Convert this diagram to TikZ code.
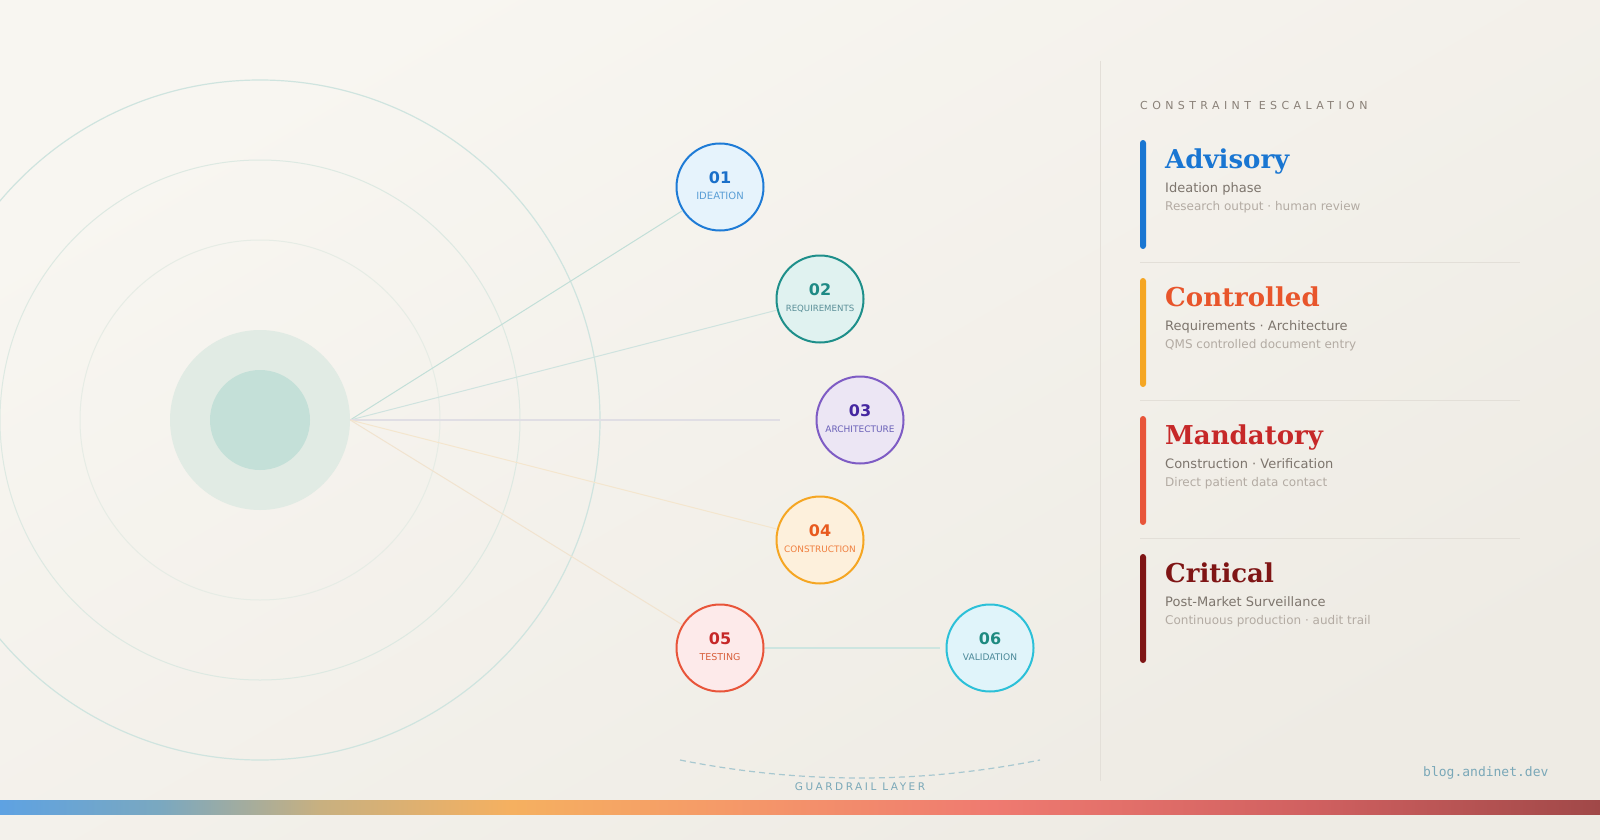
\documentclass[tikz,border=0pt]{standalone}
\usepackage{fontspec}
\setmainfont{DejaVu Sans}
\setmonofont{DejaVu Sans Mono}
\newfontfamily\titlefont{DejaVu Serif}
\newfontfamily\spacedfont[LetterSpace=40]{DejaVu Sans}
\newfontfamily\guardfont[LetterSpace=24]{DejaVu Sans}

% Farben
\definecolor{bgA}{HTML}{F8F6F1}
\definecolor{bgB}{HTML}{EEEBE4}
\definecolor{ringA}{HTML}{CFE4DF}
\definecolor{ringB}{HTML}{DDE9E2}
\definecolor{ringC}{HTML}{E6ECE5}
\definecolor{hubout}{HTML}{E1EBE4}
\definecolor{hubin}{HTML}{C4E0D8}
\definecolor{s1}{HTML}{1E7BD6}\definecolor{f1}{HTML}{E6F3FC}\definecolor{t1}{HTML}{1A6FC9}\definecolor{l1}{HTML}{5A9ED6}
\definecolor{s2}{HTML}{1E8F8A}\definecolor{f2}{HTML}{E0F2F0}\definecolor{t2}{HTML}{1E8A85}\definecolor{l2}{HTML}{5A8F98}
\definecolor{s3}{HTML}{7E5CC4}\definecolor{f3}{HTML}{ECE6F4}\definecolor{t3}{HTML}{4527A0}\definecolor{l3}{HTML}{6A60B8}
\definecolor{s4}{HTML}{F5A623}\definecolor{f4}{HTML}{FDF0DC}\definecolor{t4}{HTML}{E85A1E}\definecolor{l4}{HTML}{F08040}
\definecolor{s5}{HTML}{E8553A}\definecolor{f5}{HTML}{FDEAEA}\definecolor{t5}{HTML}{C62828}\definecolor{l5}{HTML}{D8603C}
\definecolor{s6}{HTML}{2CC0D8}\definecolor{f6}{HTML}{E0F4FA}\definecolor{t6}{HTML}{1E8A80}\definecolor{l6}{HTML}{4A8898}
\definecolor{sp1}{HTML}{C2DFD8}
\definecolor{sp2}{HTML}{CFE3DF}
\definecolor{sp3}{HTML}{E0DEE4}
\definecolor{sp4}{HTML}{F4E6CE}
\definecolor{sp5}{HTML}{F1E3CF}
\definecolor{sp6}{HTML}{CDE5E0}
\definecolor{ttl1}{HTML}{1976D2}\definecolor{bar1}{HTML}{1976D2}
\definecolor{ttl2}{HTML}{E8552B}\definecolor{bar2}{HTML}{F5A623}
\definecolor{ttl3}{HTML}{C62828}\definecolor{bar3}{HTML}{E8553A}
\definecolor{ttl4}{HTML}{7F1515}\definecolor{bar4}{HTML}{7F1515}
\definecolor{subtxt}{HTML}{7D756D}
\definecolor{dettxt}{HTML}{B3ABA3}
\definecolor{headtxt}{HTML}{8A8178}
\definecolor{rule}{HTML}{E3DFD8}
\definecolor{guard}{HTML}{7AA8B8}
\definecolor{guardarc}{HTML}{A8C8D0}
\definecolor{gA}{HTML}{5EA2E2}
\definecolor{gB}{HTML}{7AA8C0}
\definecolor{gC}{HTML}{C8B080}
\definecolor{gD}{HTML}{F5B060}
\definecolor{gE}{HTML}{F59A68}
\definecolor{gF}{HTML}{EF7A70}
\definecolor{gG}{HTML}{D06060}
\definecolor{gH}{HTML}{A04848}

% Verlauf unten
\pgfdeclarehorizontalshading{barshade}{100bp}{color(0bp)=(gA); color(25bp)=(gA);
    color(30bp)=(gB); color(35bp)=(gC); color(41bp)=(gD); color(47.5bp)=(gE);
    color(56bp)=(gF); color(66bp)=(gG); color(75bp)=(gH); color(100bp)=(gH)}

\begin{document}
\begin{tikzpicture}[x=1pt,y=-1pt,
    phase/.style={circle, line width=2pt, minimum size=87, inner sep=0},
    numtxt/.style={anchor=base, inner sep=0, font=\fontsize{16}{16}\selectfont\bfseries},
    lbltxt/.style={anchor=base, inner sep=0},
    spoke/.style={line width=1pt},
    lvltitle/.style={anchor=base west, inner sep=0, font=\fontsize{26}{26}\selectfont\titlefont\bfseries},
    lvlsub/.style={anchor=base west, inner sep=0, text=subtxt, font=\fontsize{13}{13}\selectfont},
    lvldet/.style={anchor=base west, inner sep=0, text=dettxt, font=\fontsize{12}{12}\selectfont}]
    \useasboundingbox (0,0) rectangle (1600,840);
    \clip (0,0) rectangle (1600,840);

    % Hintergrund
    \shade[top color=bgA, bottom color=bgB, shading angle=30] (0,0) rectangle (1600,840);

    % Ringe um die Mitte
    \draw[ringA, line width=1.2pt] (260,420) circle[radius=340];
    \draw[ringB, line width=1pt] (260,420) circle[radius=260];
    \draw[ringC, line width=1pt] (260,420) circle[radius=180];
    \node[circle, fill=hubout, minimum size=180, inner sep=0] (hub) at (260,420) {};
    \node[circle, fill=hubin, minimum size=100, inner sep=0] (core) at (hub) {};

    % Phasen
    \foreach \i/\x/\y/\num/\txt/\fs in {1/720/187/01/IDEATION/10, 2/820/299/02/REQUIREMENTS/8.6,
        3/860/420/03/ARCHITECTURE/9, 4/820/540/04/CONSTRUCTION/8.9,
        5/720/648/05/TESTING/9.5, 6/990/648/06/VALIDATION/9.1} {
        \node[phase, draw=s\i, fill=f\i] (c\i) at (\x,\y) {};
        \node[numtxt, text=t\i] (n\i) at ([yshift=4pt]c\i.center) {\num};
        \node[lbltxt, text=l\i, font=\fontsize{\fs}{\fs}\selectfont] (l\i) at ([yshift=-12pt]c\i.center) {\txt};
    }

    % Speichen
    \coordinate (s3end) at (780,420);
    \draw[spoke, sp1] (hub.east) -- (c1);
    \draw[spoke, sp2] (hub.east) -- (c2);
    \draw[spoke, sp3, line width=1.5pt] (hub.east) -- (s3end);
    \draw[spoke, sp4] (hub.east) -- (c4);
    \draw[spoke, sp5] (hub.east) -- (c5);
    \draw[spoke, sp6, line width=1.5pt, shorten >=6pt] (c5) -- (c6);

    % Guardrail
    \draw[guardarc, line width=1.2pt, dash pattern=on 6pt off 4pt] (680,760) .. controls (800,784) and (920,784) .. (1040,760);
    \node[anchor=base, inner sep=0, text=guard, font=\fontsize{10.5}{10.5}\selectfont\guardfont] (guard) at (860,790) {GUARDRAIL LAYER};

    % Trennlinie
    \draw[rule, line width=1pt] (1100,61) -- (1100,781);

    % Stufen rechts
    \node[anchor=base west, inner sep=0, text=headtxt, font=\fontsize{11}{11}\selectfont\spacedfont] (head) at (1140,110) {CONSTRAINT ESCALATION};
    \foreach \k/\title/\sub/\det [count=\j from 0] in {1/Advisory/Ideation phase/Research output · human review,
        2/Controlled/Requirements · Architecture/QMS controlled document entry,
        3/Mandatory/Construction · Verification/Direct patient data contact,
        4/Critical/Post-Market Surveillance/Continuous production · audit trail} {
        \fill[bar\k, rounded corners=3pt] (1140,{140+138*\j}) rectangle (1146,{249+138*\j});
        \node[lvltitle, text=ttl\k] (lvl\k) at (1165,{168+138*\j}) {\title};
        \node[lvlsub] (sub\k) at (1165,{192+138*\j}) {\sub};
        \node[lvldet] (det\k) at (1165,{210+138*\j}) {\det};
    }
    \foreach \j in {0,1,2}
        \draw[rule, line width=1pt] (1140,{262+138*\j}) -- (1520,{262+138*\j});

    % Fusszeile
    \node[anchor=base west, inner sep=0, text=guard, font=\fontsize{13}{13}\selectfont\ttfamily] (blog) at (1423,776) {blog.andinet.dev};
    \shade[shading=barshade] (0,800) rectangle (1600,814);
\end{tikzpicture}
\end{document}
